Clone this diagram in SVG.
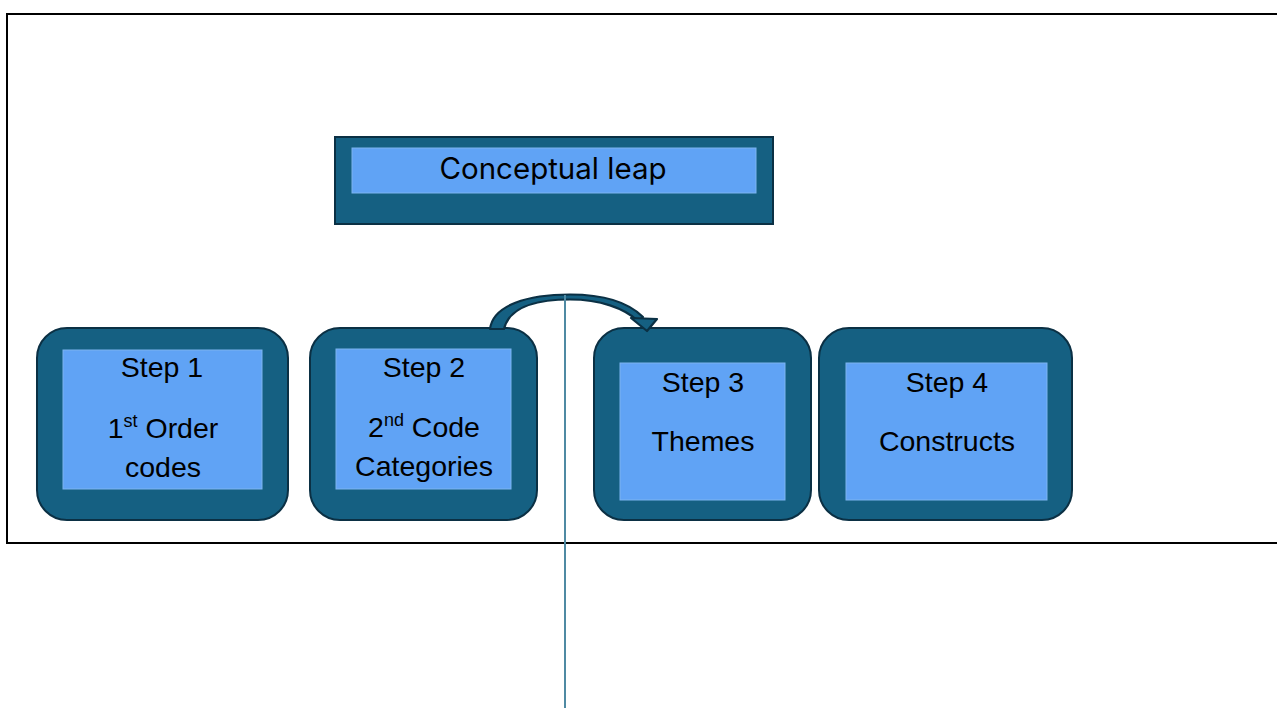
<svg xmlns="http://www.w3.org/2000/svg" width="1277" height="708" viewBox="0 0 1277 708">
  <style>
    .outer { fill: #156082; stroke: #0b3044; stroke-width: 2; }
    .inner { fill: #60a3f5; stroke: #7db4f0; stroke-width: 1; }
    .lbl { font-family: "Liberation Sans", Arial, sans-serif; font-size: 28.5px; fill: #000; text-anchor: middle; }
    .title { font-family: "Inter", "Open Sans", sans-serif; font-size: 29.5px; fill: #000; text-anchor: middle; }
    .sup { font-size: 18px; }
    .arc { fill: #156082; stroke: #0b3044; stroke-width: 2.2; stroke-linejoin: round; }
  </style>

  <rect width="1277" height="708" fill="#ffffff"/>

  <!-- frame -->
  <path d="M1280 14 H7 V543 H1280" fill="none" stroke="#000" stroke-width="2"/>

  <g id="conceptual-leap">
    <rect class="outer" x="335" y="137" width="438" height="87"/>
    <rect class="inner" x="352" y="148" width="404" height="45"/>
    <text class="title" x="553" y="179">Conceptual leap</text>
  </g>

  <g id="step1">
    <rect class="outer" x="37" y="328" width="251" height="192" rx="30"/>
    <rect class="inner" x="63" y="350" width="199" height="139"/>
    <text class="lbl" x="162" y="377">Step 1</text>
    <text class="lbl" x="163" y="438">1<tspan class="sup" dy="-11">st</tspan><tspan dy="11"> Order</tspan></text>
    <text class="lbl" x="163" y="477">codes</text>
  </g>

  <g id="step2">
    <rect class="outer" x="310" y="328" width="227" height="192" rx="30"/>
    <rect class="inner" x="336" y="349" width="175" height="140"/>
    <text class="lbl" x="424" y="377">Step 2</text>
    <text class="lbl" x="424" y="437">2<tspan class="sup" dy="-11">nd</tspan><tspan dy="11"> Code</tspan></text>
    <text class="lbl" x="424" y="476">Categories</text>
  </g>

  <g id="step3">
    <rect class="outer" x="594" y="328" width="217" height="192" rx="30"/>
    <rect class="inner" x="620" y="363" width="165" height="137"/>
    <text class="lbl" x="703" y="392">Step 3</text>
    <text class="lbl" x="703" y="451">Themes</text>
  </g>

  <g id="step4">
    <rect class="outer" x="819" y="328" width="253" height="192" rx="30"/>
    <rect class="inner" x="846" y="363" width="201" height="137"/>
    <text class="lbl" x="947" y="392">Step 4</text>
    <text class="lbl" x="947" y="451">Constructs</text>
  </g>

  <g id="connectors">
    <!-- curved arrow from step 2 to step 3 -->
    <path class="arc" d="M490 329 C493 305 528 294.5 570 294.5 C604 294.5 629 303 643 317 L638 321 C624 308 600 299.5 570 299.5 C535 299.5 509 308 504 329 Z"/>
    <polygon class="arc" points="631,318 657,319 647,331"/>
    <!-- vertical divider -->
    <line x1="565" y1="295" x2="565" y2="708" stroke="#4f8aa3" stroke-width="2"/>
  </g>
</svg>
